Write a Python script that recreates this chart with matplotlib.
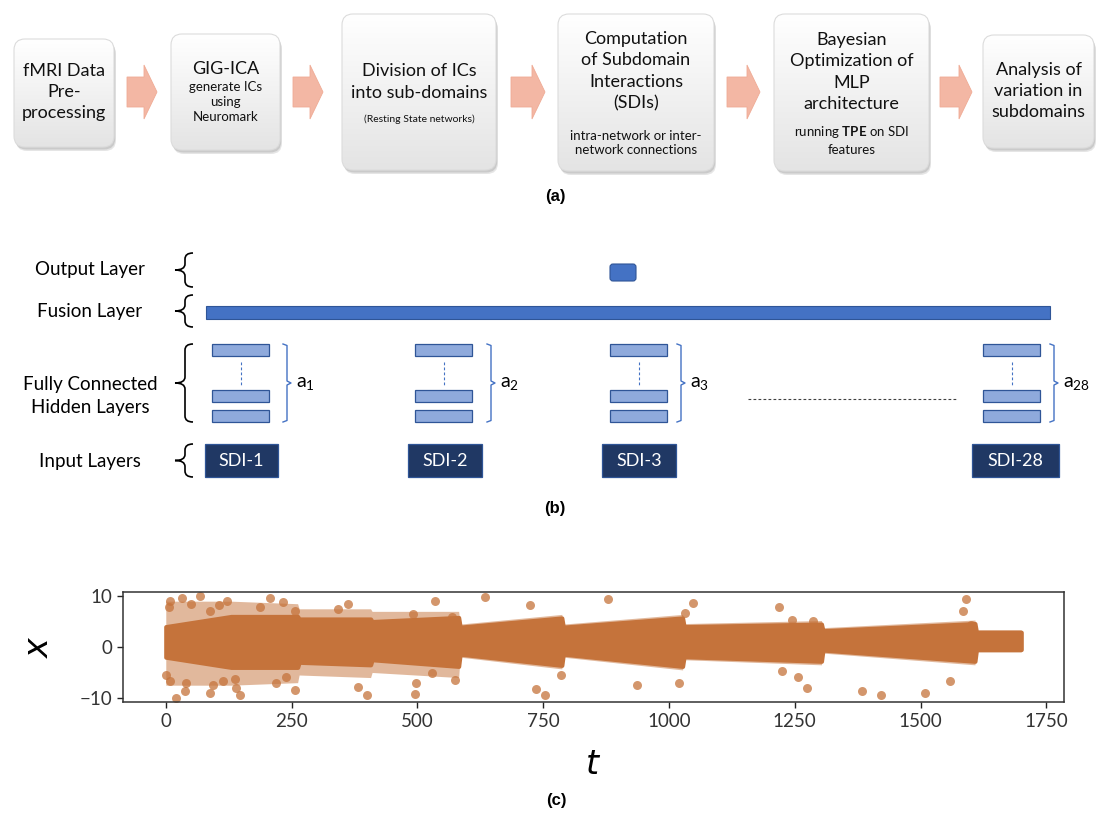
import matplotlib.pyplot as plt
import matplotlib.patches as mpatches
from matplotlib.colors import LinearSegmentedColormap
from matplotlib.path import Path
import numpy as np

plt.rcParams['font.family'] = ['Lato', 'DejaVu Sans']
plt.rcParams['mathtext.fontset'] = 'custom'
plt.rcParams['mathtext.rm'] = 'Lato'
plt.rcParams['mathtext.bf'] = 'Lato:bold'
plt.rcParams['mathtext.it'] = 'DejaVu Sans:italic'

# (a) pipeline steps: big title text, small note text
step_titles = ['fMRI Data\nPre-\nprocessing', 'GIG-ICA', 'Division of ICs\ninto sub-domains',
               'Computation\nof Subdomain\nInteractions\n(SDIs)',
               'Bayesian\nOptimization of\nMLP\narchitecture',
               'Analysis of\nvariation in\nsubdomains']
step_notes = ['', 'generate ICs\nusing\nNeuromark', '(Resting State networks)',
              'intra-network or inter-\nnetwork connections',
              r'running $\mathbf{TPE}$ on SDI' + '\nfeatures', '']

# (b) network layers
layer_names = ['Output Layer', 'Fusion Layer', 'Fully Connected\nHidden Layers', 'Input Layers']
sdi_names = ['SDI-1', 'SDI-2', 'SDI-3', 'SDI-28']
sdi_index = ['1', '2', '3', '28']

# (c) time series: dense band envelope per segment + stray points
band_t = [0, 130, 262, 265, 407, 410, 582, 585, 787, 790, 1027, 1030, 1303, 1306, 1608, 1611, 1700]
core_lo = [-2.0, -4.0, -4.0, -3.0, -3.5, -2.5, -3.8, -1.4, -3.6, -1.4, -3.8, -1.9, -2.8, -0.6, -2.8, -0.5, -0.5]
core_hi = [4.0, 6.0, 6.0, 5.5, 5.5, 5.0, 5.8, 3.9, 5.7, 3.9, 5.7, 4.0, 4.5, 3.2, 4.6, 2.9, 2.9]
halo_lo = [-7.5, -7.5, -7.0, -5.5, -6.0, -5.0, -6.0, -2.0, -4.3, -2.0, -4.5, -2.5, -3.5, -1.2, -3.5, -1.0, -1.0]
halo_hi = [9.0, 9.0, 8.5, 7.5, 7.5, 7.0, 7.0, 4.5, 6.4, 4.5, 6.4, 4.6, 5.2, 3.8, 5.3, 3.4, 3.4]

stray_t = [8, 33, 68, 7, 51, 106, 122, 207, 232, 256, 343, 363, 492, 535, 88, 187,
           1, 8, 21, 38, 87, 94, 137, 139, 147, 220, 256, 239, 382, 399, 497, 495, 41, 114,
           634, 724, 879, 1047, 1031, 568, 574, 786, 735, 753, 937, 1020, 529,
           1219, 1244, 1287, 1590, 1585, 1601, 1224, 1257, 1275, 1383, 1421, 1509, 1559]
stray_x = [9.1, 9.6, 10.0, 7.8, 8.5, 8.2, 9.1, 9.6, 8.8, 7.0, 7.5, 8.5, 6.5, 9.1, 7.0, 7.8,
           -5.4, -6.7, -10.0, -8.7, -9.0, -7.4, -6.3, -8.0, -9.5, -7.1, -8.5, -5.8, -7.9, -9.5, -7.1, -9.2, -7.1, -6.7,
           9.8, 8.2, 9.4, 8.7, 6.7, 5.8, -6.4, -5.4, -8.3, -9.5, -7.4, -7.1, -5.1,
           7.8, 5.4, 5.1, 9.4, 7.0, 4.4, -4.7, -5.8, -8.0, -8.7, -9.5, -9.1, -6.7]

fig = plt.figure(figsize=(11.03, 8.21), dpi=100)
ax0 = fig.add_axes([0, 0, 1, 1])
ax0.axis('off')

# ---------- (a) flow chart, pixel coordinates ----------
boxes = [(14, 39, 114, 147), (171, 34, 280, 150), (342, 14, 496, 170),
         (558, 14, 714, 171), (774, 14, 929, 171), (983, 35, 1094, 148)]
title_y = [92, 69, 82, 71, 72, 91]
note_y = [0, 102, 119, 143, 140, 0]
note_size = [9, 9.5, 7.5, 9.5, 9.5, 9]
grad = np.linspace(0, 1, 64).reshape(-1, 1)
gray_cmap = LinearSegmentedColormap.from_list('g', ['#ffffff', '#e4e4e4'])

for i, (x0, y0, x1, y1) in enumerate(boxes):
    for off, al in [(4, 0.25), (2.5, 0.35)]:
        sh = mpatches.FancyBboxPatch((x0 + off * 0.5, y0 + off), x1 - x0, y1 - y0,
                                     boxstyle='round,pad=0,rounding_size=11',
                                     fc='#9a9a9a', ec='none', alpha=al, zorder=1)
        ax0.add_patch(sh)
    box = mpatches.FancyBboxPatch((x0, y0), x1 - x0, y1 - y0,
                                  boxstyle='round,pad=0,rounding_size=11',
                                  fc='none', ec='#dcdcdc', lw=0.8, zorder=3)
    ax0.add_patch(box)
    im = ax0.imshow(grad, extent=(x0, x1, y1, y0), cmap=gray_cmap, aspect='auto', zorder=2)
    im.set_clip_path(box)
    ax0.text((x0 + x1) / 2, title_y[i], step_titles[i], ha='center', va='center',
             fontsize=13, linespacing=1.42, color='#111111', zorder=4)
    if step_notes[i]:
        ax0.text((x0 + x1) / 2, note_y[i], step_notes[i], ha='center', va='center',
                 fontsize=note_size[i], linespacing=1.3, color='#111111', zorder=4)

arrow_x = [(127, 157), (293, 323), (511, 545), (727, 760), (940, 972)]
for ax_l, ax_r in arrow_x:
    yc = 92
    hl = 13
    pts = [(ax_l, yc - 15), (ax_r - hl, yc - 15), (ax_r - hl, yc - 27), (ax_r, yc),
           (ax_r - hl, yc + 27), (ax_r - hl, yc + 15), (ax_l, yc + 15)]
    ax0.add_patch(mpatches.Polygon(pts, closed=True, fc='#f3b7a4', ec='#efab95', lw=0.6))

ax0.text(555, 197, '(a)', ha='center', va='center', fontsize=12, fontweight='bold',
         family='Liberation Sans')

# ---------- (b) network architecture ----------
def brace(ax, xt, xr, y0, y1, color='black', lw=1.2):
    ym = (y0 + y1) / 2
    xm = (xt + xr) / 2 + 1
    r = 6
    verts = [(xr, y0), (xm, y0), (xm, y0 + r), (xm, ym - r), (xm, ym), (xt, ym),
             (xm, ym), (xm, ym + r), (xm, y1 - r), (xm, y1), (xr, y1)]
    codes = [Path.MOVETO, Path.CURVE3, Path.CURVE3, Path.LINETO, Path.CURVE3, Path.CURVE3,
             Path.CURVE3, Path.CURVE3, Path.LINETO, Path.CURVE3, Path.CURVE3]
    ax.add_patch(mpatches.PathPatch(Path(verts, codes), fc='none', ec=color, lw=lw))

label_y = [269, 312, 396, 462]
brace_span = [(253, 287), (295, 327), (344, 422), (444, 477)]
for name, ly, (b0, b1) in zip(layer_names, label_y, brace_span):
    ax0.text(90, ly, name, ha='center', va='center', fontsize=13.5, linespacing=1.4)
    brace(ax0, 175, 193, b0, b1)

# fusion + output
ax0.add_patch(mpatches.Rectangle((206, 306), 1050 - 206, 13, fc='#4472c4', ec='#2f5597', lw=0.8))
ax0.add_patch(mpatches.FancyBboxPatch((610, 264), 26, 17, boxstyle='round,pad=0,rounding_size=3',
                                      fc='#4472c4', ec='#2f5597', lw=0.8))

hid_x = [212, 415, 610, 983]
sdi_x = [(205, 278), (408, 482), (602, 676), (972, 1059)]
bracket_x = [283, 487, 677, 1050]
for k in range(4):
    hx = hid_x[k]
    for y0 in (344, 390, 410):
        ax0.add_patch(mpatches.Rectangle((hx, y0), 57, 12.5, fc='#8faadc', ec='#2f5597', lw=0.9))
    ax0.plot([hx + 29, hx + 29], [362, 387], color='#4472c4', lw=0.8, ls=(0, (2.5, 2)))
    bx = bracket_x[k]
    ax0.plot([bx, bx + 4, bx + 4, bx + 8, bx + 4, bx + 4, bx],
             [344, 345.5, 381, 383, 385, 420.5, 422], color='#4472c4', lw=1.0)
    ax0.text(bx + 13, 384, 'a$_{' + sdi_index[k] + '}$', ha='left', va='center', fontsize=14)
    sx0, sx1 = sdi_x[k]
    ax0.add_patch(mpatches.Rectangle((sx0, 444), sx1 - sx0, 33, fc='#203864', ec='#2f5597', lw=0.9))
    ax0.text((sx0 + sx1) / 2, 461, sdi_names[k], ha='center', va='center', fontsize=13, color='white')

ax0.plot([748, 956], [399, 399], color='#404040', lw=0.8, ls=(0, (2.5, 2)))
ax0.text(555, 508, '(b)', ha='center', va='center', fontsize=12, fontweight='bold',
         family='Liberation Sans')
ax0.text(556, 800, '(c)', ha='center', va='center', fontsize=12, fontweight='bold',
         family='Liberation Sans')
ax0.set_xlim(0, 1103)
ax0.set_ylim(821, 0)

# ---------- (c) time series ----------
dot = '#c5733b'
ax = fig.add_axes([123 / 1103, 1 - 702 / 821, 941 / 1103, 110 / 821])
ax.fill_between(band_t, halo_lo, halo_hi, color=dot, alpha=0.5, lw=0)
ax.fill_between(band_t, core_lo, core_hi, color=dot, lw=3, joinstyle='round')
ax.scatter(stray_t, stray_x, s=42, color=dot, alpha=0.75, lw=0)
ax.set_xlim(-85, 1785)
ax.set_ylim(-10.8, 10.8)
ax.set_xticks([0, 250, 500, 750, 1000, 1250, 1500, 1750])
ax.set_yticks([-10, 0, 10])
ax.tick_params(labelsize=13.5, length=4.5, width=1, colors='#222222', labelcolor='#333333')
for sp in ax.spines.values():
    sp.set_color('#333333')
    sp.set_linewidth(1.1)
ax.set_xlabel('$t$', fontsize=24, labelpad=14)
ax.set_ylabel('$x$', fontsize=24, labelpad=18)

plt.savefig('out.png', dpi=100)
